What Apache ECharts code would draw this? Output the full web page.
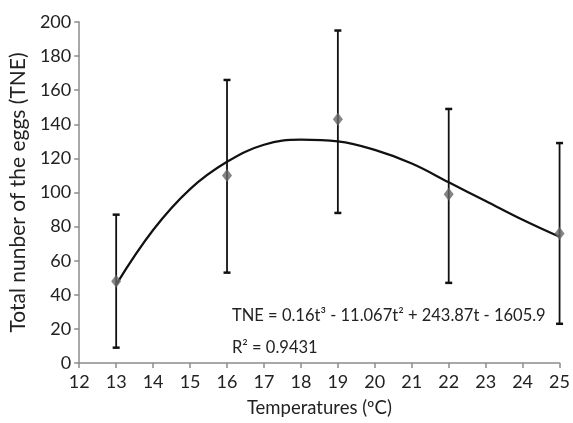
<!DOCTYPE html>
<html><head><meta charset="utf-8">
<script src="https://cdn.jsdelivr.net/npm/echarts@6/dist/echarts.min.js"></script>
<style>html,body{margin:0;padding:0;background:#fff}#c{width:573px;height:423px}</style>
</head><body><div id="c"></div>
<script>
const temperatures = [13, 16, 19, 22, 25];
const tneMean = [48, 110, 143, 99, 76];
const tneLow = [9, 53, 88, 47, 23];
const tneHigh = [87, 166, 195, 149, 129];
const trendT = [13, 14, 15, 16, 17, 18, 19, 20, 21, 22, 23, 24, 25];
const trendTNE = [46, 78, 102, 118, 128, 131, 130, 125, 117, 106, 95, 84, 74];
const xTicks = [12, 13, 14, 15, 16, 17, 18, 19, 20, 21, 22, 23, 24, 25];
const yTicks = [0, 20, 40, 60, 80, 100, 120, 140, 160, 180, 200];
const equationText = 'TNE = 0.16t³ - 11.067t² + 243.87t - 1605.9';
const r2Text = 'R² = 0.9431';

const FONT = 'Lato';
const chart = echarts.init(document.getElementById('c'));
chart.setOption({
  animation: false,
  textStyle: {fontFamily: FONT},
  grid: {left: 78, right: 6, top: 22, bottom: 60},
  xAxis: {
    type: 'value', min: xTicks[0], max: xTicks[xTicks.length-1], interval: 1,
    name: 'Temperatures (ºC)', nameLocation: 'middle', nameGap: 36,
    nameTextStyle: {fontSize: 18.5, color: '#222', fontFamily: FONT},
    axisLine: {lineStyle: {color: '#8c8c8c', width: 1.5}},
    axisTick: {lineStyle: {color: '#8c8c8c', width: 1.5}, length: 5},
    axisLabel: {fontSize: 18, color: '#222', margin: 10},
    splitLine: {show: false}
  },
  yAxis: {
    type: 'value', min: yTicks[0], max: yTicks[yTicks.length-1], interval: 20,
    name: 'Total nunber of the eggs (TNE)', nameLocation: 'middle', nameGap: 46,
    nameTextStyle: {fontSize: 21, color: '#222', fontFamily: FONT},
    axisLine: {show: true, lineStyle: {color: '#8c8c8c', width: 1.5}},
    axisTick: {show: true, lineStyle: {color: '#8c8c8c', width: 1.5}, length: 5},
    axisLabel: {fontSize: 18, color: '#222', margin: 8},
    splitLine: {show: false}
  },
  series: [
    {
      type: 'line', data: trendT.map((t, i) => [t, trendTNE[i]]),
      smooth: 0.4, symbol: 'none', z: 3,
      lineStyle: {color: '#111', width: 2.2}
    },
    {
      type: 'custom', z: 4,
      data: temperatures.map((t, i) => [t, tneLow[i], tneHigh[i]]),
      renderItem: function (params, api) {
        const lo = api.coord([api.value(0), api.value(1)]);
        const hi = api.coord([api.value(0), api.value(2)]);
        const w = 3.5;
        const st = {stroke: '#111', lineWidth: 1.8};
        return {type: 'group', children: [
          {type: 'line', shape: {x1: lo[0], y1: lo[1], x2: hi[0], y2: hi[1]}, style: st},
          {type: 'line', shape: {x1: lo[0]-w, y1: lo[1], x2: lo[0]+w, y2: lo[1]}, style: {stroke: '#111', lineWidth: 2.5}},
          {type: 'line', shape: {x1: hi[0]-w, y1: hi[1], x2: hi[0]+w, y2: hi[1]}, style: {stroke: '#111', lineWidth: 2.5}}
        ]};
      }
    },
    {
      type: 'scatter', z: 5, symbol: 'diamond', symbolSize: [10, 13],
      data: temperatures.map((t, i) => [t, tneMean[i]]),
      itemStyle: {color: '#666'}
    }
  ],
  graphic: [
    {type: 'text', left: 232, top: 307, style: {text: equationText, fontSize: 16.5, fill: '#222', fontFamily: FONT}},
    {type: 'text', left: 232, top: 339, style: {text: r2Text, fontSize: 16.5, fill: '#222', fontFamily: FONT}}
  ]
});
</script></body></html>
